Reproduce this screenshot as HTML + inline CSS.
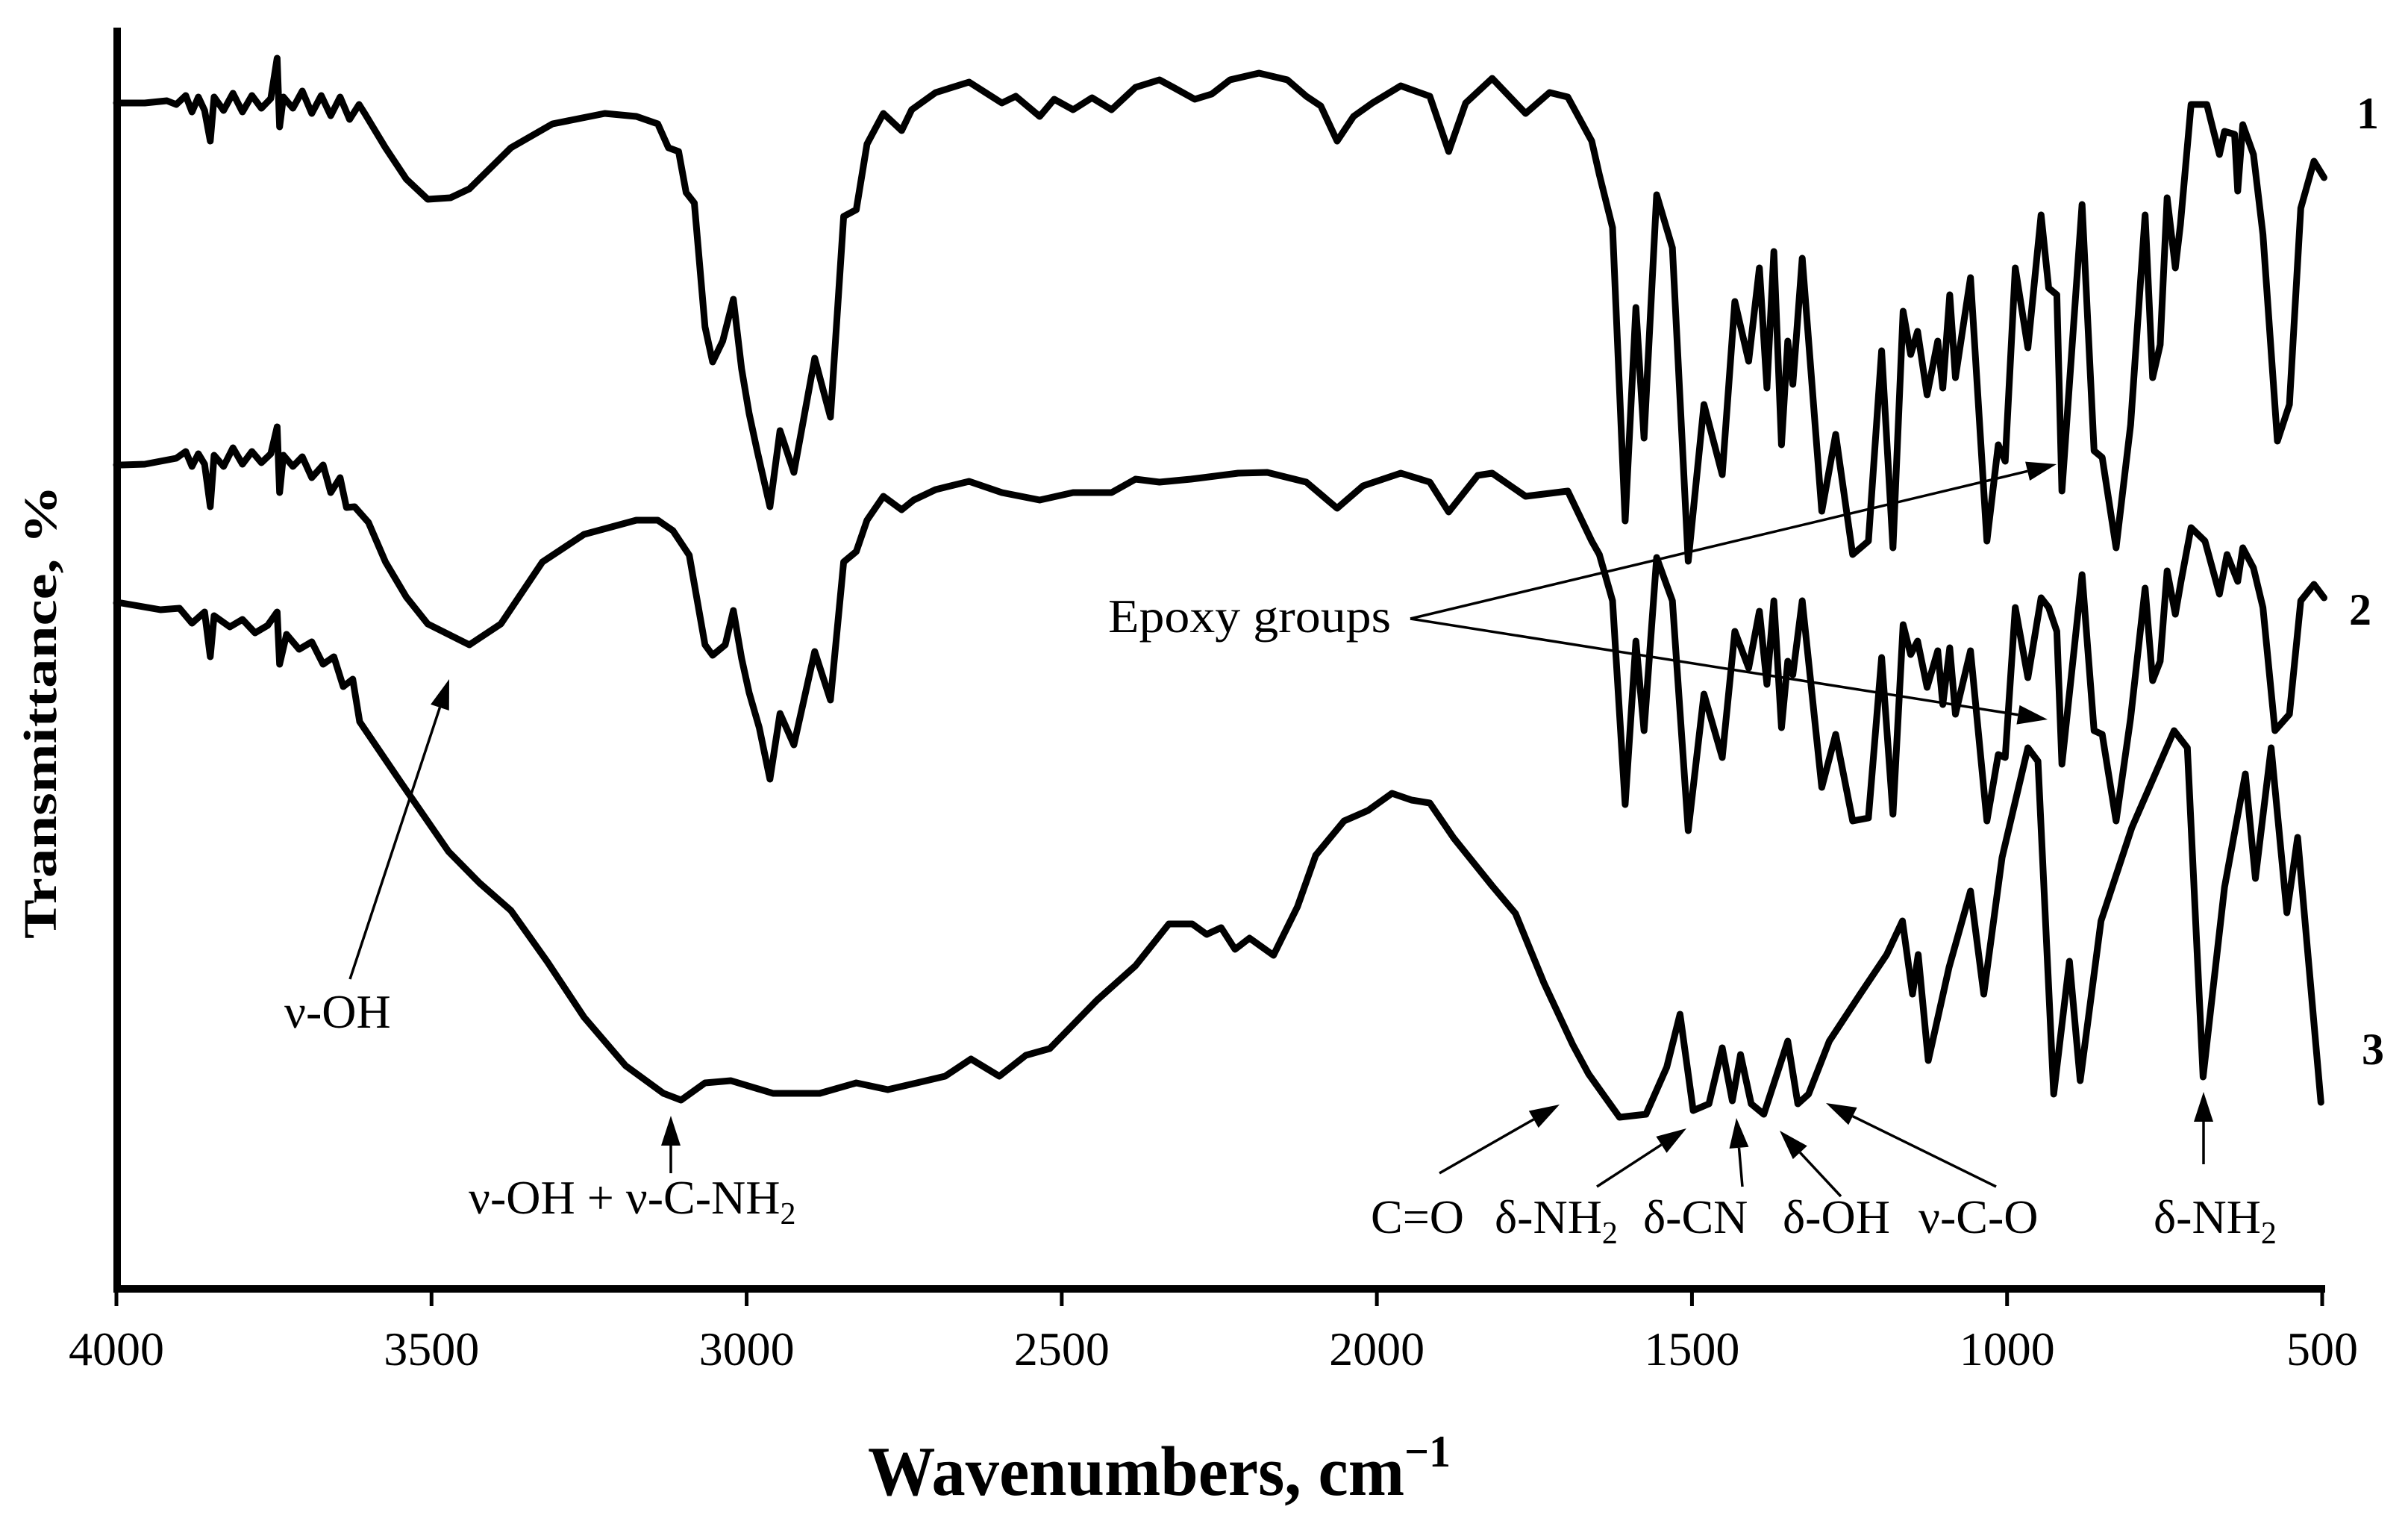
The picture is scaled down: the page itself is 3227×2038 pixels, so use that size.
<!DOCTYPE html>
<html><head><meta charset="utf-8"><style>
html,body{margin:0;padding:0;background:#fff;}
svg{display:block;font-family:"Liberation Serif",serif;}
</style></head><body>
<svg id="chart" xmlns="http://www.w3.org/2000/svg" width="3227" height="2038" viewBox="0 0 3227 2038">
<rect x="0" y="0" width="3227" height="2038" fill="#fff"/>
<g id="plot"></g>
<g id="axes"></g>
<g id="ann"></g>
</svg>
<script>
const xTicks = [4000, 3500, 3000, 2500, 2000, 1500, 1000, 500];
const xTickLabels = ["4000","3500","3000","2500","2000","1500","1000","500"];
const wn1 = [4000,3992,3955,3920,3905,3890,3880,3870,3860,3851,3845,3830,3815,3800,3785,3770,3755,3745,3741,3735,3720,3705,3690,3675,3660,3645,3630,3615,3606,3573,3540,3506,3470,3440,3374,3308,3225,3175,3141,3124,3108,3096,3083,3066,3054,3038,3021,3008,2996,2983,2963,2947,2925,2892,2867,2846,2826,2809,2783,2754,2738,2700,2647,2595,2573,2535,2512,2482,2452,2421,2383,2345,2323,2289,2262,2233,2187,2142,2112,2089,2063,2037,2007,1962,1916,1886,1859,1817,1764,1726,1697,1659,1647,1626,1606,1589,1576,1556,1531,1506,1481,1452,1432,1410,1393,1381,1370,1358,1348,1340,1325,1294,1272,1245,1220,1199,1181,1165,1153,1142,1127,1110,1102,1091,1082,1058,1032,1014,1003,987,967,946,934,921,913,881,862,849,827,804,781,769,757,746,733,725,708,683,663,655,639,634,626,609,594,571,552,534,513,497];
const t1 = [158.9,158.9,158.9,159.2,158.7,159.9,157.7,159.7,157.9,153.8,159.7,157.9,160.2,157.7,159.9,158.2,159.5,164.9,155.7,159.7,158.2,160.5,157.5,159.9,157.2,159.7,156.7,158.7,157.5,152.9,148.7,146.0,146.2,147.4,152.9,156.1,157.5,157.1,156.1,152.9,152.4,146.9,145.5,128.9,124.2,127.0,132.6,123.3,117.3,112.2,104.8,115.0,109.4,124.7,116.8,143.7,144.6,153.4,157.5,155.2,158.0,160.3,161.7,158.9,159.8,157.1,159.4,158.0,159.6,158.0,161.0,162.0,161.0,159.4,160.1,162.0,162.9,162.0,159.8,158.5,153.8,157.1,158.9,161.2,159.8,152.4,158.9,162.2,157.5,160.3,159.7,153.8,149.3,142.2,102.9,131.5,114.0,146.6,139.5,97.5,118.5,109.1,132.3,124.3,136.8,120.7,139.0,113.1,127.0,121.2,138.1,104.2,114.5,98.4,100.2,125.7,99.3,131.0,125.2,128.3,119.8,127.0,120.7,133.2,122.1,135.5,100.2,113.1,110.9,136.8,126.1,143.9,134.1,133.2,106.9,145.3,112.3,111.4,99.3,115.8,143.9,122.1,126.5,146.2,136.8,142.6,158.7,158.7,152.0,155.1,154.7,147.1,156.0,152.0,141.3,113.6,118.5,144.8,151.1,148.9];
const wn2 = [4000,3992,3955,3905,3890,3880,3870,3860,3851,3845,3830,3815,3800,3785,3770,3755,3745,3741,3735,3720,3705,3690,3672,3660,3645,3635,3622,3600,3573,3540,3506,3440,3390,3324,3258,3175,3141,3117,3091,3066,3054,3034,3021,3008,2996,2980,2963,2947,2925,2892,2867,2846,2826,2809,2783,2754,2735,2700,2647,2595,2535,2482,2421,2383,2345,2295,2220,2174,2112,2063,2022,1962,1916,1886,1840,1817,1764,1697,1659,1647,1626,1606,1589,1576,1556,1531,1506,1481,1452,1432,1410,1393,1381,1370,1358,1348,1340,1325,1294,1272,1245,1220,1199,1181,1165,1153,1142,1127,1110,1102,1091,1082,1058,1032,1014,1003,987,967,946,934,921,913,881,862,849,827,804,781,769,757,746,733,724,708,686,663,651,634,626,609,594,575,552,534,513,497];
const t2 = [110.4,110.4,110.5,111.3,112.2,110.2,111.9,110.5,104.8,111.7,110.2,112.7,110.5,112.2,110.7,111.9,115.5,106.7,111.7,110.2,111.5,108.7,110.4,106.7,108.7,104.7,104.8,102.7,97.4,92.7,89.1,86.3,89.1,97.4,101.1,103.0,103.0,101.6,98.3,86.3,84.9,86.3,90.9,84.5,79.9,75.2,68.3,77.1,72.9,85.4,78.9,97.4,98.8,103.0,106.2,104.4,105.7,107.1,108.2,106.7,105.7,106.7,106.7,108.5,108.1,108.5,109.3,109.4,108.1,104.6,107.6,109.3,108.1,104.1,109.0,109.3,106.2,106.9,100.2,98.4,92.2,64.9,86.8,74.8,98.0,92.2,61.4,79.7,71.2,88.1,83.2,90.8,81.0,92.2,75.2,84.1,82.3,92.2,67.2,74.3,62.7,63.1,84.6,63.6,89.0,85.0,86.8,80.6,85.5,78.3,85.9,77.0,85.5,62.7,71.6,71.2,91.3,81.9,92.6,91.3,88.1,70.3,95.7,74.8,74.3,62.7,76.5,93.9,81.5,84.1,96.2,90.4,94.8,102.0,100.2,93.1,98.4,94.8,99.3,96.6,91.3,74.8,77.0,92.2,94.4,92.6];
const wn3 = [4000,3992,3930,3900,3880,3860,3851,3845,3820,3800,3780,3760,3745,3741,3730,3710,3690,3672,3655,3640,3625,3614,3548,3473,3424,3374,3316,3258,3192,3132,3104,3066,3025,2958,2884,2826,2776,2730,2685,2644,2599,2557,2519,2444,2383,2330,2293,2270,2247,2225,2202,2164,2126,2097,2052,2014,1976,1945,1916,1878,1817,1780,1735,1689,1664,1615,1573,1540,1519,1498,1473,1452,1436,1423,1406,1386,1365,1348,1332,1315,1282,1233,1191,1166,1150,1141,1125,1092,1058,1037,1008,967,951,926,901,884,851,802,735,714,689,655,622,606,581,556,539,502];
const t3 = [91.9,91.9,91.0,91.2,89.2,90.7,84.7,90.2,88.7,89.7,87.9,88.9,90.7,83.7,87.7,85.7,86.7,83.7,84.7,80.7,81.7,76.0,67.8,58.6,54.4,50.7,43.8,36.4,29.9,26.2,25.3,27.6,27.9,26.2,26.2,27.6,26.7,27.6,28.5,30.8,28.5,31.3,32.2,38.7,43.3,48.9,48.9,47.5,48.4,45.5,47.0,44.7,51.2,58.1,62.7,64.1,66.4,65.5,65.1,60.4,54.0,50.3,41.0,32.7,28.8,23.0,23.4,29.7,36.8,23.9,24.8,32.3,25.2,31.4,24.8,23.4,28.8,33.2,24.8,26.1,33.2,39.5,44.8,49.3,39.5,44.8,30.6,43.1,53.3,39.5,57.8,72.5,70.7,26.1,43.9,27.9,49.3,61.8,74.8,72.5,28.4,53.8,69.0,55.0,72.5,50.4,60.5,25.0];
const seriesLabels = ["1","2","3"];

const NS="http://www.w3.org/2000/svg";
const X0=156, X1=3112, Y0=1727;
function xScale(w){return X0+(4000-w)*(X1-X0)/3500;}
function yScale(t){return Y0-t*10;}
function mk(tag,attrs,parent){const e=document.createElementNS(NS,tag);for(const k in attrs)e.setAttribute(k,attrs[k]);parent.appendChild(e);return e;}

const plot=document.getElementById('plot');
const axes=document.getElementById('axes');
const ann=document.getElementById('ann');

[[wn1,t1,'spectrum-1'],[wn2,t2,'spectrum-2'],[wn3,t3,'spectrum-3']].forEach(s=>{
  const pts=s[0].map((w,i)=>xScale(w).toFixed(1)+','+yScale(s[1][i]).toFixed(1)).join(' ');
  const pl=mk('polyline',{points:pts,fill:'none',stroke:'#000','stroke-width':9,'stroke-linejoin':'round','stroke-linecap':'round'},plot);
  
  
});

const ya=mk('line',{x1:157,y1:37,x2:157,y2:1731,stroke:'#000','stroke-width':10},axes);


const xa=mk('line',{x1:152,y1:1727,x2:3116,y2:1727,stroke:'#000','stroke-width':10},axes);


xTicks.forEach((w,i)=>{
  const tk=mk('line',{x1:xScale(w),y1:1727,x2:xScale(w),y2:1750,stroke:'#000','stroke-width':5},axes);
  
  
  const tl=mk('text',{x:xScale(w),y:1829,'font-size':64,'text-anchor':'middle'},axes);
  tl.textContent=xTickLabels[i];
  
  
});

function arrow(x1,y1,x2,y2,name){
  const g=mk('g',{},ann);
  
  
  const dx=x2-x1,dy=y2-y1,L=Math.hypot(dx,dy),ux=dx/L,uy=dy/L;
  const hl=40,hw=13;
  const bx=x2-ux*hl,by=y2-uy*hl;
  mk('line',{x1:x1,y1:y1,x2:bx,y2:by,stroke:'#000','stroke-width':3.5},g);
  mk('polygon',{points:`${x2},${y2} ${bx-uy*hw},${by+ux*hw} ${bx+uy*hw},${by-ux*hw}`,fill:'#000'},g);
}
arrow(469,1312,602,910,'arrow-v-oh');
arrow(899,1572,899,1495,'arrow-v-oh-cnh2');
arrow(1890,829,2756,622,'arrow-epoxy-1');
arrow(1890,829,2744,964,'arrow-epoxy-2');
arrow(1929,1572,2090,1480,'arrow-c-o');
arrow(2140,1590,2260,1512,'arrow-d-nh2');
arrow(2335,1590,2327,1498,'arrow-d-cn');
arrow(2467,1603,2385,1515,'arrow-d-oh');
arrow(2675,1590,2447,1478,'arrow-v-c-o');
arrow(2953,1560,2953,1463,'arrow-d-nh2-right');
</script>
<svg style="position:absolute;left:0;top:0" width="3227" height="2038" viewBox="0 0 3227 2038">
<g font-family="Liberation Serif, serif" fill="#000">
<text x="55" y="954" font-size="62" font-weight="bold" text-anchor="middle" transform="rotate(-90 55 954)" textLength="608" lengthAdjust="spacingAndGlyphs" dy="20">Transmittance, %</text>
<text x="1163" y="2003" font-size="94" font-weight="bold" textLength="781" lengthAdjust="spacingAndGlyphs">Wavenumbers, cm<tspan font-size="60" dy="-38">−1</tspan></text>
<text x="3158" y="172" font-size="60" font-weight="bold">1</text>
<text x="3148" y="837" font-size="60" font-weight="bold">2</text>
<text x="3165" y="1426" font-size="60" font-weight="bold">3</text>
<text x="1485" y="847" font-size="64" textLength="379" lengthAdjust="spacingAndGlyphs">Epoxy groups</text>
<text x="381" y="1377" font-size="64">ν-OH</text>
<text x="628" y="1626" font-size="64">ν-OH + ν-C-NH<tspan font-size="42" dy="14">2</tspan></text>
<text x="1837" y="1652" font-size="64">C=O</text>
<text x="2003" y="1652" font-size="64">δ-NH<tspan font-size="42" dy="14">2</tspan></text>
<text x="2202" y="1652" font-size="64">δ-CN</text>
<text x="2389" y="1652" font-size="64">δ-OH</text>
<text x="2571" y="1652" font-size="64">ν-C-O</text>
<text x="2886" y="1652" font-size="64">δ-NH<tspan font-size="42" dy="14">2</tspan></text>
</g>
</svg>
</body></html>
